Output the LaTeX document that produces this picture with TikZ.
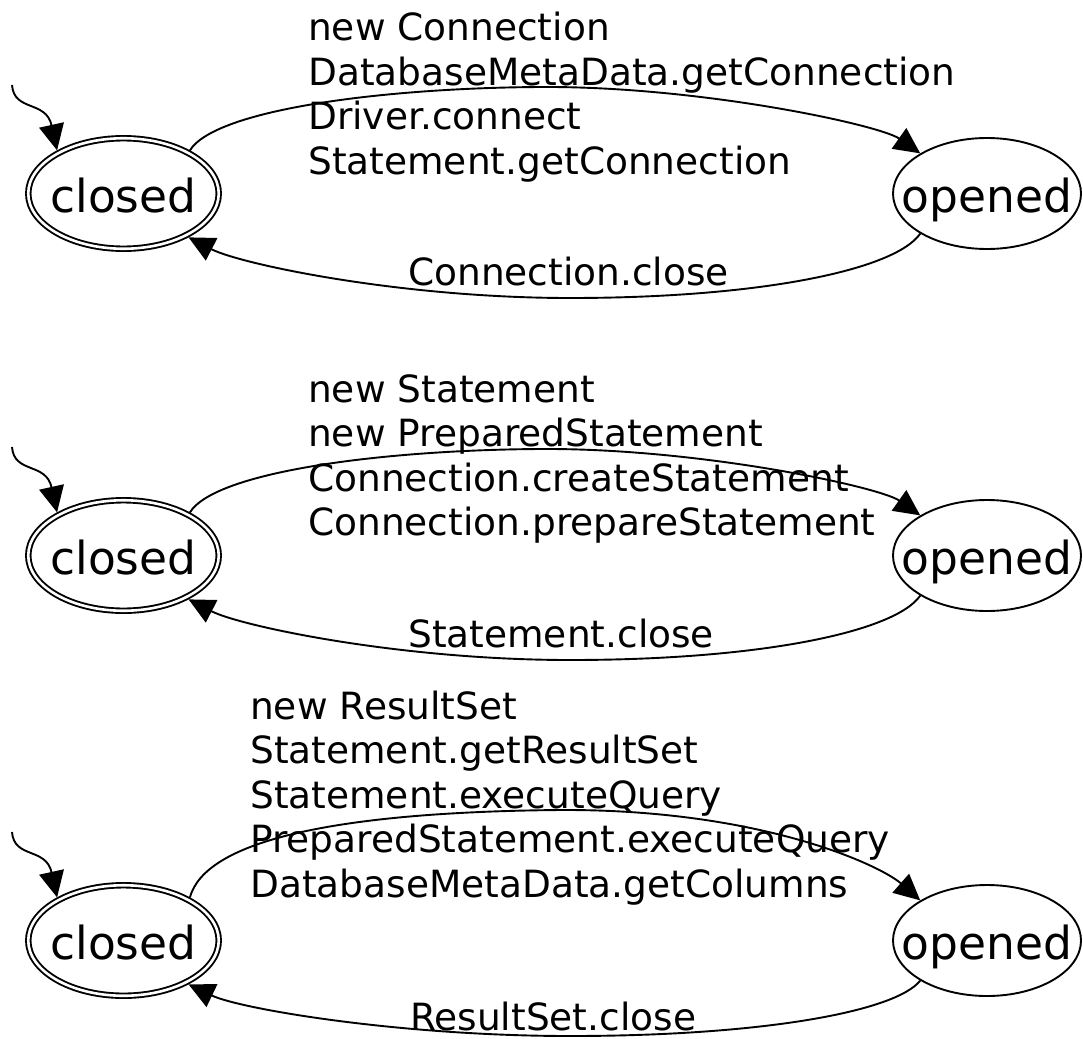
\documentclass[tikz,border=0pt]{standalone}
\usepackage{fontspec}
\setmainfont{DejaVu Sans}
\usetikzlibrary{arrows.meta,shapes.geometric}
\begin{document}
\begin{tikzpicture}[x=1pt,y=-1pt,
  state/.style={ellipse, draw, line width=1.9pt, inner sep=0pt, outer sep=0.95pt,
    minimum width=188pt, minimum height=111pt,
    font=\fontsize{45.5pt}{50pt}\selectfont, text height=38pt, text depth=0pt},
  accept/.style={state, double, double distance=2.6pt,
    minimum width=190.5pt, minimum height=110.5pt, outer sep=3.2pt},
  edge/.style={draw, line width=1.9pt, -{Triangle[length=26pt,width=25pt]}},
  lbl/.style={font=\fontsize{37.5pt}{44.5pt}\selectfont, inner sep=0pt, align=left}
]
\path[use as bounding box] (0,0) rectangle (1083,1038);

% ---------- diagram 1 ----------
\node[accept] (c1) at (123.5,193.5) {\makebox[0pt]{closed}};
\node[state] (o1) at (987,193.5) {\makebox[0pt]{opened}};
\coordinate (s1) at (12,85);
\node[lbl, anchor=north west] (l1) at (308,12.2)
  {new Connection\\DatabaseMetaData.getConnection\\Driver.connect\\Statement.getConnection};
\node[lbl, anchor=base west] (k1) at (408,285) {Connection.close};
\draw[edge] (s1) .. controls (14,112) and (46,100) .. (c1.147);
\draw[edge] (c1.33.6) .. controls (215,110) and (380,88) .. (540,87)
  .. controls (700,86) and (880,125) .. (o1.149.2);
\draw[edge] (o1.211.8) .. controls (895,270) and (760,298) .. (570,298)
  .. controls (400,298) and (240,264) .. (c1.326.8);

% ---------- diagram 2 ----------
\begin{scope}[shift={(0,362)}]
\node[accept] (c2) at (123.5,193.5) {\makebox[0pt]{closed}};
\node[state] (o2) at (987,193.5) {\makebox[0pt]{opened}};
\coordinate (s2) at (12,85);
\node[lbl, anchor=north west] (l2) at (308,12.2)
  {new Statement\\new PreparedStatement\\Connection.createStatement\\Connection.prepareStatement};
\node[lbl, anchor=base west] (k2) at (408,285) {Statement.close};
\draw[edge] (s2) .. controls (14,112) and (46,100) .. (c2.147);
\draw[edge] (c2.33.6) .. controls (215,110) and (380,88) .. (540,87)
  .. controls (700,86) and (880,125) .. (o2.149.2);
\draw[edge] (o2.211.8) .. controls (895,270) and (760,298) .. (570,298)
  .. controls (400,298) and (240,264) .. (c2.326.8);
\end{scope}

% ---------- diagram 3 ----------
\begin{scope}[shift={(0,747)}]
\node[accept] (c3) at (123.5,193.5) {\makebox[0pt]{closed}};
\node[state] (o3) at (987,193.5) {\makebox[0pt]{opened}};
\coordinate (s3) at (12,85);
\node[lbl, anchor=north west] (l3) at (250,-56.5)
  {new ResultSet\\Statement.getResultSet\\Statement.executeQuery\\PreparedStatement.executeQuery\\DatabaseMetaData.getColumns};
\node[lbl, anchor=base west] (k3) at (410,283) {ResultSet.close};
\draw[edge] (s3) .. controls (14,112) and (46,100) .. (c3.147);
\draw[edge] (c3.33.6) .. controls (205,95) and (330,65) .. (560,63)
  .. controls (760,62) and (880,118) .. (o3.149.2);
\draw[edge] (o3.211.8) .. controls (895,265) and (760,289) .. (570,289)
  .. controls (400,289) and (240,262) .. (c3.326.8);
\end{scope}
\end{tikzpicture}
\end{document}
